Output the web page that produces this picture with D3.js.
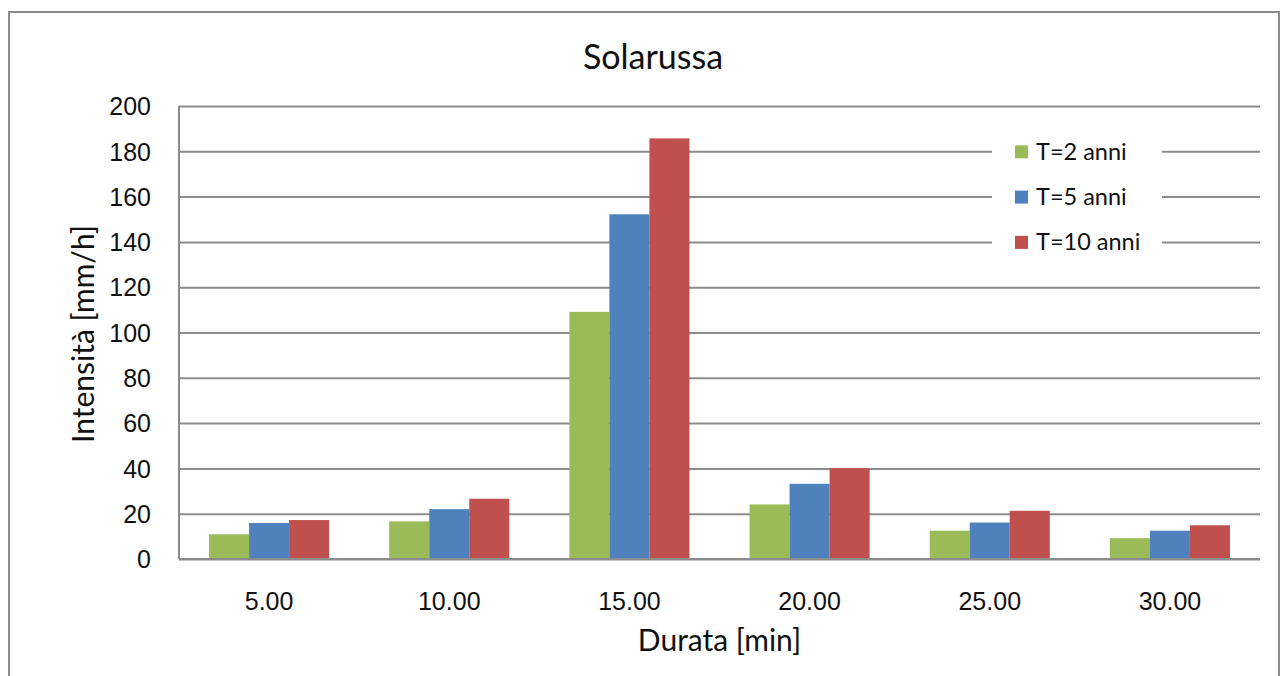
<!DOCTYPE html>
<html><head><meta charset="utf-8">
<script src="https://cdn.jsdelivr.net/npm/d3@7"></script>
<style>html,body{margin:0;padding:0;background:#fff;}svg{display:block;font-family:Lato,"Open Sans",sans-serif;}</style>
</head><body>
<svg id="c" width="1288" height="676"></svg>
<script>
const categories = ["5.00","10.00","15.00","20.00","25.00","30.00"];
const seriesNames = ["T=2 anni","T=5 anni","T=10 anni"];
const t2 = [10.9, 16.6, 109.1, 24.1, 12.5, 9.2];
const t5 = [15.9, 22.0, 152.2, 33.2, 16.1, 12.5];
const t10 = [17.2, 26.6, 185.7, 40.1, 21.3, 14.9];
const yTicks = [0,20,40,60,80,100,120,140,160,180,200];
const colors = ["#9BBB59","#4F81BD","#C0504D"];
const seriesValues = [t2, t5, t10];

(function(){
const svg = d3.select("#c");
const pL = 179, pR = 1260, pT = 106, pB = 559;
const grid = "#8c8c8c";
const ink = "#111";

// outer border
svg.append("rect").attr("x",9).attr("y",12).attr("width",1270).attr("height",700)
  .attr("fill","#fff").attr("stroke","#8a8a8a").attr("stroke-width",2);

const x0 = d3.scaleBand().domain(categories).range([pL,pR]).paddingInner(1/3).paddingOuter(1/6);
const x1 = d3.scaleBand().domain(seriesNames).range([0,x0.bandwidth()]);
const y = d3.scaleLinear().domain([0,200]).range([pB,pT]);

// gridlines + y axis labels
const yAxis = d3.axisLeft(y).tickValues(yTicks).tickSize(-(pR-pL)).tickPadding(28).tickFormat(d3.format("d"));
const gy = svg.append("g").attr("transform",`translate(${pL},0)`).call(yAxis);
gy.select(".domain").remove();
gy.selectAll(".tick line").attr("stroke",grid).attr("stroke-width",2);
gy.selectAll(".tick text").attr("fill",ink).style("font-size","25px").attr("dy","0.35em");

// bars
const groups = svg.append("g").selectAll("g").data(categories).join("g")
  .attr("transform",d=>`translate(${x0(d)},0)`);
groups.selectAll("rect").data((d,i)=>seriesNames.map((s,j)=>({s, v:seriesValues[j][i], c:colors[j]})))
  .join("rect")
  .attr("x",d=>x1(d.s)).attr("width",x1.bandwidth())
  .attr("y",d=>y(d.v)).attr("height",d=>y(0)-y(d.v))
  .attr("fill",d=>d.c);

// axes lines
svg.append("line").attr("x1",pL).attr("x2",pL).attr("y1",pT).attr("y2",pB).attr("stroke",grid).attr("stroke-width",2);
const xAxis = d3.axisBottom(x0).tickSize(0).tickPadding(33);
const gx = svg.append("g").attr("transform",`translate(0,${pB})`).call(xAxis);
gx.select(".domain").attr("stroke",grid).attr("stroke-width",2).attr("d",`M${pL},0H${pR}`);
gx.selectAll(".tick text").attr("fill",ink).style("font-size","25px");

// title
svg.append("text").attr("x",653).attr("y",69).attr("text-anchor","middle")
  .style("font-size","34px").attr("fill",ink).text("Solarussa");

// axis titles
svg.append("text").attr("x",(pL+pR)/2).attr("y",651).attr("text-anchor","middle")
  .style("font-size","30px").attr("fill",ink).text("Durata [min]");
svg.append("text").attr("transform","translate(94,334) rotate(-90)").attr("text-anchor","middle")
  .style("font-size","30px").attr("fill",ink).text("Intensità [mm/h]");

// legend
const lg = svg.append("g");
lg.append("rect").attr("x",992).attr("y",130).attr("width",170).attr("height",130).attr("fill","#fff");
const rows = [y(180), y(160), y(140)];
seriesNames.forEach((s,i)=>{
  lg.append("rect").attr("x",1015).attr("y",rows[i]-6).attr("width",13).attr("height",13).attr("fill",colors[i]);
  lg.append("text").attr("x",1036).attr("y",rows[i]).attr("dy","0.35em")
    .style("font-size","23.5px").attr("fill",ink).text(s);
});
})();
</script>
</body></html>
